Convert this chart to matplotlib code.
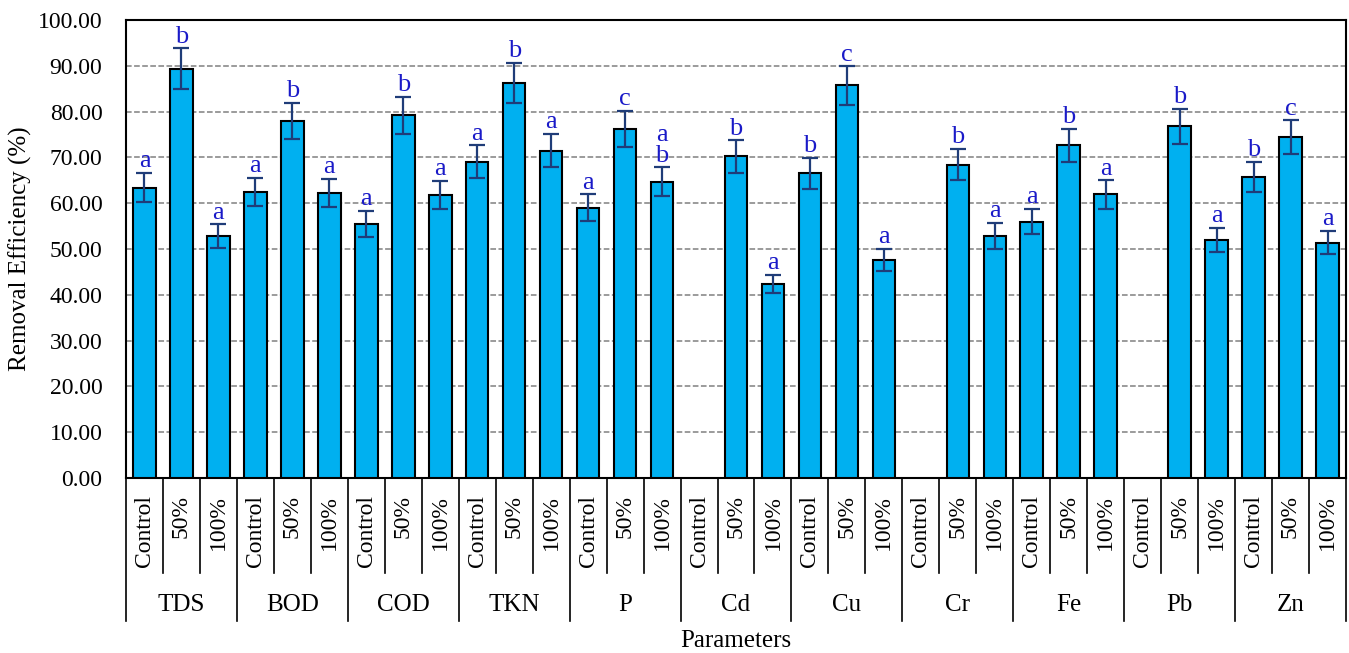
import numpy as np
import matplotlib
matplotlib.use('Agg')
import matplotlib.pyplot as plt
import matplotlib.transforms as mtransforms

plt.rcParams['font.family'] = ['Liberation Serif', 'DejaVu Serif']

params = ['TDS', 'BOD', 'COD', 'TKN', 'P', 'Cd', 'Cu', 'Cr', 'Fe', 'Pb', 'Zn']
treatments = ['Control', '50%', '100%']

# removal efficiency (%) per treatment, nan = no bar
control = [63.4, 62.4, 55.5, 69.1, 59.0, np.nan, 66.5, np.nan, 56.0, np.nan, 65.8]
half    = [89.4, 78.0, 79.2, 86.3, 76.2, 70.2, 85.7, 68.4, 72.7, 76.8, 74.4]
full    = [52.8, 62.2, 61.8, 71.5, 64.7, 42.4, 47.6, 52.9, 61.9, 52.0, 51.4]

control_err = [3.2, 3.1, 2.8, 3.5, 2.9, np.nan, 3.4, np.nan, 2.8, np.nan, 3.3]
half_err    = [4.4, 3.9, 4.0, 4.4, 3.9, 3.5, 4.2, 3.4, 3.6, 3.8, 3.7]
full_err    = [2.6, 3.1, 3.1, 3.7, 3.1, 2.0, 2.5, 2.8, 3.1, 2.6, 2.6]

control_let = ['a', 'a', 'a', 'a', 'a', '', 'b', '', 'a', '', 'b']
half_let    = ['b', 'b', 'b', 'b', 'c', 'b', 'c', 'b', 'b', 'b', 'c']
full_let    = ['a', 'a', 'a', 'a', 'a\nb', 'a', 'a', 'a', 'a', 'a', 'a']

# interleave: group by parameter, three treatments each
vals = np.array([v for trio in zip(control, half, full) for v in trio], dtype=float)
errs = np.array([v for trio in zip(control_err, half_err, full_err) for v in trio], dtype=float)
lets = [v for trio in zip(control_let, half_let, full_let) for v in trio]
ticklabels = treatments * len(params)
x = np.arange(len(vals))

fig = plt.figure(figsize=(13.49, 6.53), dpi=100)
ax = fig.add_axes([126/1349, 1 - 478/653, 1220/1349, 458/653])

ax.bar(x, vals, width=0.61, color='#00B0F0', edgecolor='black', linewidth=1.5, zorder=3)
ax.errorbar(x, vals, yerr=errs, fmt='none', ecolor='#1F3C78', elinewidth=1.6,
            capsize=6, capthick=1.6, zorder=4)

for xi, v, e, t in zip(x, vals, errs, lets):
    if t and not np.isnan(v):
        ax.annotate(t, (xi, v + e), xytext=(0, 0.5), textcoords='offset points',
                    ha='center', va='bottom', fontsize=19, color='#1A1AC8',
                    linespacing=0.95, zorder=5)

ax.set_xlim(-0.5, len(vals) - 0.5)
ax.set_ylim(0, 100)
ax.set_yticks(np.arange(0, 101, 10))
ax.set_yticklabels([f'{t:.2f}' for t in np.arange(0, 101, 10)], fontsize=17)
ax.tick_params(axis='y', length=0, pad=17)
ax.set_xticks(x)
ax.set_xticklabels(ticklabels, rotation=90, fontsize=17)
ax.tick_params(axis='x', length=0, pad=12)
ax.grid(True, axis='y', linestyle='--', color='#808080', linewidth=1.1, zorder=0)
ax.set_axisbelow(True)
for s in ax.spines.values():
    s.set_linewidth(1.5)

# table-like separators below the axis
trans = mtransforms.blended_transform_factory(ax.transData, ax.transAxes)
for k in range(len(vals) + 1):
    b = k - 0.5
    bottom = -0.312 if k % 3 == 0 else -0.207
    ax.plot([b, b], [0, bottom], transform=trans, color='black', lw=1.2, clip_on=False)

for g, p in enumerate(params):
    ax.text(3 * g + 1, -0.277, p, transform=trans, ha='center', va='center', fontsize=18)

ax.text(0.5, -0.355, 'Parameters', transform=ax.transAxes, ha='center', va='center', fontsize=18)
fig.text(20/1349, 1 - 249/653, 'Removal Efficiency (%)', rotation=90,
         ha='center', va='center', fontsize=18)

fig.savefig('out.png', dpi=100)
